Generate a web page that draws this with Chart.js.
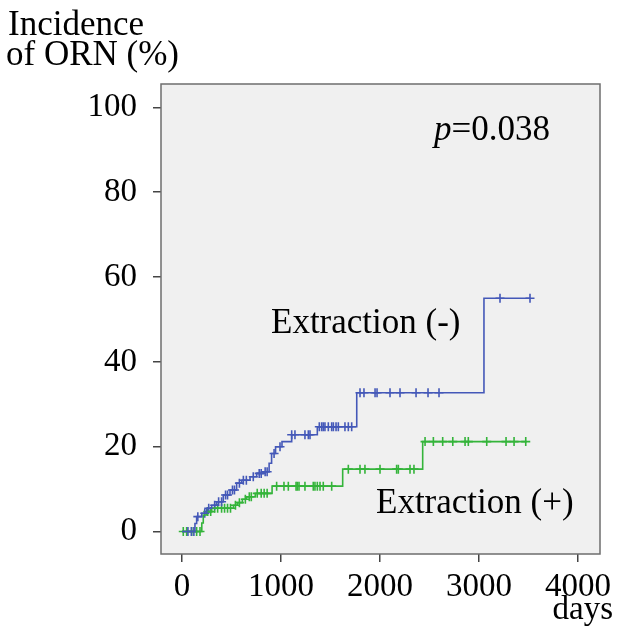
<!DOCTYPE html>
<html>
<head>
<meta charset="utf-8">
<script src="https://cdn.jsdelivr.net/npm/chart.js@4.4.1/dist/chart.umd.min.js"></script>
<style>
    body { margin: 0; background: #fff; }
    canvas { display: block; }
</style>
</head>
<body>
<canvas id="kmChart" width="617" height="628"></canvas>
<script>
'use strict';

// Extraction (-) : step times (days) and cumulative incidence (%)
var blueTimes  = [0, 131, 148, 200, 250, 300, 350, 417, 485, 552, 603, 687, 754, 822, 880, 905, 945, 1010, 1108, 1367, 1765, 3050, 3515];
var blueValues = [0, 1.9, 3.5, 4.3, 5.5, 6.2, 7.0, 8.6, 9.8, 11.4, 12.1, 12.9, 13.7, 14.1, 16.1, 18.4, 20.0, 21.2, 22.8, 24.7, 32.7, 55.0, 55.0];
var blueCensored = [60, 95, 120, 160, 230, 270, 330, 370, 400, 440, 460, 510, 530, 580, 620, 650, 720, 780, 800, 840, 860, 930, 990,
    1108, 1141, 1242, 1276, 1293, 1387, 1411, 1427, 1444, 1478, 1512, 1529, 1556, 1579, 1646, 1680, 1714,
    1798, 1838, 1950, 1970, 2101, 2202, 2364, 2485, 2596, 3212, 3515];

// Extraction (+)
var greenTimes  = [0, 200, 215, 250, 300, 520, 560, 610, 650, 740, 910, 1623, 2431, 3482];
var greenValues = [0, 2.0, 3.9, 4.7, 5.5, 6.2, 6.8, 7.6, 8.2, 9.0, 10.7, 14.7, 21.2, 21.2];
var greenCensored = [13, 47, 98, 148, 182, 260, 290, 330, 360, 400, 430, 460, 490, 540, 580, 640, 680, 700, 760, 800, 830, 860,
    956, 1030, 1074, 1152, 1165, 1182, 1242, 1326, 1343, 1367, 1394, 1427, 1512,
    1680, 1798, 1848, 2000, 2168, 2185, 2303, 2343,
    2455, 2539, 2633, 2735, 2859, 2892, 3078, 3273, 3354, 3472];

var xTicks = [0, 1000, 2000, 3000, 4000];
var yTicks = [0, 20, 40, 60, 80, 100];

var blueColor = 'rgb(68, 88, 184)';
var greenColor = 'rgb(52, 180, 58)';
var serif = '"Liberation Serif", "Times New Roman", serif';

function toPoints(times, values) {
    var pts = [];
    for (var i = 0; i < times.length; i++) {
        pts.push({x: times[i], y: values[i]});
    }
    return pts;
}

// value of the step curve at time t (for the censor marks)
function stepAt(times, values, t) {
    var v = values[0];
    for (var i = 0; i < times.length; i++) {
        if (times[i] <= t) v = values[i];
    }
    return v;
}

function censorPoints(censored, times, values) {
    return censored.map(function(t) {
        return {x: t, y: stepAt(times, values, t)};
    });
}

var boxPlugin = {
    id: 'boxPlugin',
    beforeDraw: function(chart) {
        var ctx = chart.ctx, a = chart.chartArea;
        ctx.save();
        ctx.fillStyle = '#fff';
        ctx.fillRect(0, 0, chart.width, chart.height);
        ctx.fillStyle = '#f0f0f0';
        ctx.fillRect(a.left, a.top, a.right - a.left, a.bottom - a.top);
        ctx.restore();
    },
    afterDraw: function(chart) {
        var ctx = chart.ctx, a = chart.chartArea;
        ctx.save();
        ctx.strokeStyle = '#6e6e6e';
        ctx.lineWidth = 1.5;
        ctx.strokeRect(a.left, a.top, a.right - a.left, a.bottom - a.top);

        ctx.fillStyle = '#000';
        ctx.textBaseline = 'alphabetic';
        ctx.font = '35px ' + serif;
        ctx.textAlign = 'left';
        ctx.fillText('Incidence', 8, 35);
        ctx.fillText('of ORN (%)', 6, 65);

        ctx.font = '35px ' + serif;
        ctx.fillText('Extraction (-)', 271, 333);
        ctx.fillText('Extraction (+)', 376, 513);

        ctx.textAlign = 'right';
        ctx.font = '33px ' + serif;
        ctx.fillText('days', 613, 619);

        // p value, italic p
        ctx.textAlign = 'left';
        ctx.font = 'italic 35px ' + serif;
        ctx.fillText('p', 434, 140);
        var pw = ctx.measureText('p').width;
        ctx.font = '35px ' + serif;
        ctx.fillText('=0.038', 434 + pw, 140);
        ctx.restore();
    }
};

var ctx = document.getElementById('kmChart').getContext('2d');
var kmChart = new Chart(ctx, {
    type: 'scatter',
    data: {
        datasets: [
            {
                label: 'Extraction (-)',
                type: 'line',
                data: toPoints(blueTimes, blueValues),
                stepped: 'before',
                borderColor: blueColor,
                borderWidth: 1.6,
                pointRadius: 0,
                fill: false
            },
            {
                label: 'Extraction (+)',
                type: 'line',
                data: toPoints(greenTimes, greenValues),
                stepped: 'before',
                borderColor: greenColor,
                borderWidth: 1.6,
                pointRadius: 0,
                fill: false
            },
            {
                label: 'censored (-)',
                data: censorPoints(blueCensored, blueTimes, blueValues),
                pointStyle: 'cross',
                pointRadius: 4.5,
                borderColor: blueColor,
                borderWidth: 1.6
            },
            {
                label: 'censored (+)',
                data: censorPoints(greenCensored, greenTimes, greenValues),
                pointStyle: 'cross',
                pointRadius: 4.5,
                borderColor: greenColor,
                borderWidth: 1.6
            }
        ]
    },
    options: {
        responsive: false,
        animation: false,
        layout: { padding: { top: 84, right: 17, left: 0, bottom: 0 } },
        plugins: {
            legend: { display: false },
            tooltip: { enabled: false }
        },
        scales: {
            x: {
                type: 'linear',
                min: -212,
                max: 4222,
                afterBuildTicks: function(scale) {
                    scale.ticks = xTicks.map(function(v) { return {value: v}; });
                },
                afterFit: function(scale) {
                    scale.height = 74;
                    scale.paddingLeft = 0;
                    scale.paddingRight = 0;
                },
                grid: { drawOnChartArea: false, drawTicks: true, tickLength: 8, color: '#444', lineWidth: 1.5 },
                border: { display: false },
                ticks: {
                    color: '#000',
                    padding: 6,
                    maxRotation: 0,
                    font: { family: serif, size: 33 },
                    callback: function(v) { return String(v); }
                }
            },
            y: {
                type: 'linear',
                min: -5.3,
                max: 105.5,
                afterBuildTicks: function(scale) {
                    scale.ticks = yTicks.map(function(v) { return {value: v}; });
                },
                afterFit: function(scale) {
                    scale.width = 161;
                    scale.paddingTop = 0;
                    scale.paddingBottom = 0;
                },
                grid: { drawOnChartArea: false, drawTicks: true, tickLength: 8, color: '#444', lineWidth: 1.5 },
                border: { display: false },
                ticks: {
                    color: '#000',
                    padding: 16,
                    font: { family: serif, size: 33 },
                    callback: function(v) { return String(v); }
                }
            }
        }
    },
    plugins: [boxPlugin]
});
</script>
</body>
</html>
